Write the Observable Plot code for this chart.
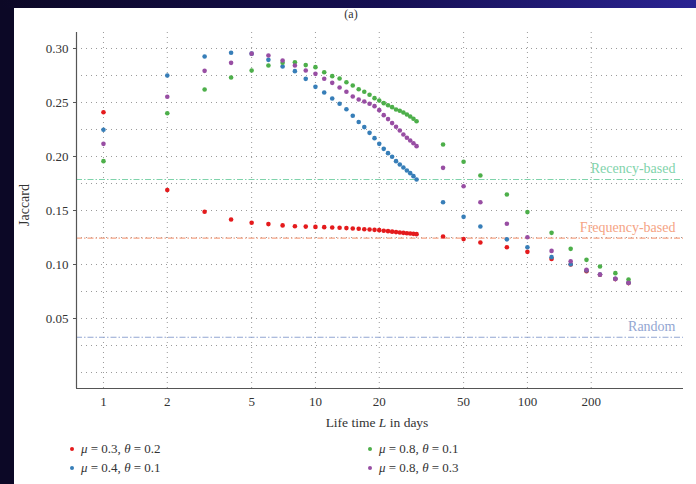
<!DOCTYPE html>
<html><head><meta charset="utf-8">
<script src="https://cdn.jsdelivr.net/npm/d3@7"></script>
<script src="https://cdn.jsdelivr.net/npm/@observablehq/plot@0.6"></script>
<style>
html,body{margin:0;padding:0;width:696px;height:484px;overflow:hidden;background:#fff;font-family:"Liberation Serif",serif;}
#frameLeft{position:absolute;left:0;top:0;width:14px;height:484px;background:#0c0826;}
#frameTop{position:absolute;left:0;top:0;width:696px;height:8px;background:linear-gradient(to right,#0c0826,#150f52 55%,#2a2392);}
#chart{position:absolute;left:0;top:0;}
#title{position:absolute;left:331px;width:40px;top:7px;text-align:center;font-size:12px;color:#333;}
#ylabel{position:absolute;left:25px;top:205px;transform:translate(-50%,-50%) rotate(-90deg);font-size:14px;color:#333;white-space:nowrap;}
#xlabel{position:absolute;left:377px;top:415px;transform:translateX(-50%);font-size:13.5px;color:#333;white-space:nowrap;}
.leg{position:absolute;font-size:13px;color:#333;white-space:nowrap;}
.leg span.dot{display:inline-block;width:4px;height:4px;border-radius:50%;margin-right:7px;vertical-align:middle;position:relative;top:-1px;}
</style>
</head><body>
<div id="chart"></div>
<div id="frameLeft"></div><div id="frameTop"></div>
<div id="title">(a)</div>
<div id="ylabel">Jaccard</div>
<div id="xlabel">Life time <i>L</i> in days</div>
<div id="legend"></div>
<script>
const lifetimes = [1,2,3,4,5,6,7,8,9,10,11,12,13,14,15,16,17,18,19,20,21,22,23,24,25,26,27,28,29,30,40,50,60,80,100,130,160,190,220,260,300];

const seriesNames = ["μ = 0.3, θ = 0.2", "μ = 0.4, θ = 0.1", "μ = 0.8, θ = 0.1", "μ = 0.8, θ = 0.3"];
const seriesColors = ["#e41a1c", "#377eb8", "#4daf4a", "#984ea3"];

const redValues = [0.241,0.169,0.1488,0.1416,0.1386,0.1374,0.1362,0.1354,0.1351,0.1348,0.1346,0.1343,0.1340,0.1337,0.1334,0.1331,0.1327,0.1324,0.1321,0.1318,0.1313,0.1309,0.1304,0.1300,0.1296,0.1293,0.1290,0.1287,0.1284,0.1281,0.1259,0.1235,0.1204,0.1160,0.1117,0.1052,0.1000,0.0938,0.0905,0.0865,0.0828];
const blueValues = [0.2247,0.275,0.2926,0.296,0.2952,0.2895,0.2833,0.279,0.2719,0.2645,0.2593,0.2537,0.2488,0.2438,0.2377,0.232,0.2272,0.2219,0.217,0.2117,0.2071,0.2031,0.1997,0.1957,0.1926,0.1898,0.187,0.1846,0.1818,0.1787,0.1577,0.1441,0.1352,0.1233,0.116,0.1068,0.1003,0.0945,0.0907,0.0867,0.0830];
const greenValues = [0.1957,0.240,0.262,0.2731,0.2796,0.2843,0.2868,0.2873,0.2846,0.2827,0.278,0.2744,0.2722,0.2688,0.2657,0.2623,0.2599,0.2571,0.254,0.2519,0.2494,0.2475,0.2457,0.2435,0.2423,0.2407,0.2389,0.237,0.2349,0.2327,0.2111,0.1951,0.1824,0.1648,0.1485,0.1293,0.1145,0.1043,0.0981,0.0920,0.0861];
const purpleValues = [0.2117,0.2553,0.2793,0.2867,0.2952,0.2935,0.2889,0.2843,0.2796,0.2765,0.272,0.2682,0.2639,0.2599,0.2556,0.2528,0.2509,0.2488,0.2466,0.2429,0.2383,0.2346,0.2309,0.2275,0.2241,0.2204,0.2173,0.2148,0.2123,0.2096,0.1895,0.1725,0.1577,0.1377,0.1253,0.1126,0.1030,0.0951,0.0907,0.0867,0.0830];

const baselineNames = ["Recency-based", "Frequency-based", "Random"];
const baselineValues = [0.1787, 0.1244, 0.0327];
const baselineColors = ["#7fd3ab", "#f5a384", "#93a6d2"];

const xTicks = [1,2,5,10,20,50,100,200];
const xTickLabels = ["1","2","5","10","20","50","100","200"];
const yTicks = [0.05,0.10,0.15,0.20,0.25,0.30];
const yGrid = [0,0.025,0.05,0.075,0.10,0.125,0.15,0.175,0.20,0.225,0.25,0.275,0.30];
const xDomain = [0.746, 545];
const yDomain = [-0.0148, 0.3148];

const seriesValues = [redValues, blueValues, greenValues, purpleValues];

const gridStyle = {stroke: "#9a9a9a", strokeOpacity: 1, strokeWidth: 1, strokeDasharray: "1,4"};

const marks = [
  Plot.gridY(yGrid, gridStyle),
  Plot.ruleX(xTicks, gridStyle),
  ...baselineValues.map((v, i) => Plot.ruleY([v], {stroke: baselineColors[i], strokeWidth: 1.1, strokeDasharray: "6,2,1.5,2"})),
  ...baselineValues.map((v, i) => Plot.text([baselineNames[i]], {y: [v], text: d => d, frameAnchor: "right", textAnchor: "end", dx: -8, dy: -11, fill: baselineColors[i], fontSize: 14})),
  Plot.ruleX([xDomain[0]], {stroke: "#555", strokeWidth: 1.2}),
  Plot.ruleY([yDomain[0]], {stroke: "#555", strokeWidth: 1.2}),
  Plot.axisY(yTicks, {tickFormat: d3.format(".2f"), tickSize: 3, tickPadding: 5, label: null, fontSize: 13, stroke: "#555"}),
  Plot.text(xTicks, {x: d => d, text: (d, i) => xTickLabels[i], frameAnchor: "bottom", lineAnchor: "top", dy: 8, fontSize: 13, fill: "#333"}),
  ...seriesValues.map((vals, i) => Plot.dot(lifetimes, {x: d => d, y: (d, j) => vals[j], fill: seriesColors[i], r: 2.3}))
];

const chart = Plot.plot({
  width: 696, height: 440,
  marginLeft: 76, marginRight: 13, marginTop: 32, marginBottom: 52,
  style: {fontFamily: "Liberation Serif, serif", color: "#333", background: "transparent"},
  x: {type: "log", domain: xDomain, axis: null},
  y: {domain: yDomain},
  marks
});
document.getElementById("chart").appendChild(chart);

const legendPos = [[70, 441], [70, 460], [368, 441], [368, 460]];
const legend = document.getElementById("legend");
seriesNames.forEach((name, i) => {
  const div = document.createElement("div");
  div.className = "leg";
  div.style.left = legendPos[i][0] + "px";
  div.style.top = legendPos[i][1] + "px";
  const parts = name.split(/(μ|θ)/).map(p => (p === "μ" || p === "θ") ? "<i>" + p + "</i>" : p).join("");
  div.innerHTML = `<span class="dot" style="background:${seriesColors[i]}"></span>${parts}`;
  legend.appendChild(div);
});
</script>
</body></html>
